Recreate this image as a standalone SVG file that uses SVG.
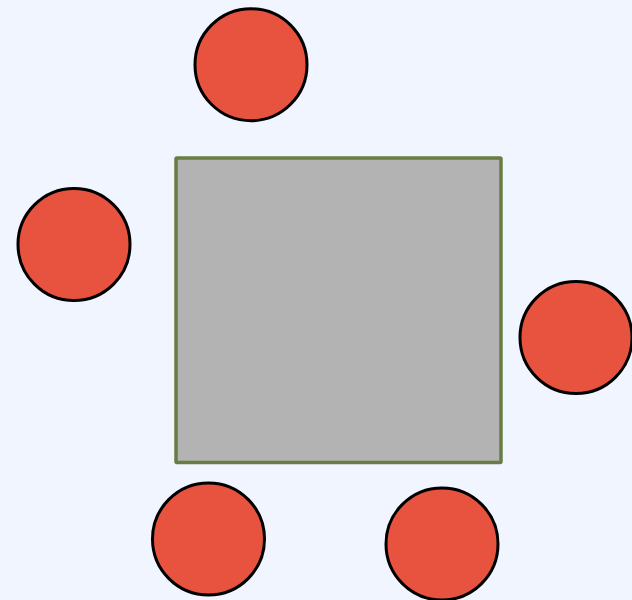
<svg xmlns="http://www.w3.org/2000/svg" width="632" height="600" viewBox="0 0 632 600">
<style>
.seat{fill:#e8533f;stroke:#000;stroke-width:3}
.table{fill:#b3b3b3;stroke:#677d42;stroke-width:3.5}
</style>
<rect width="632" height="600" fill="#f0f5ff"/>
<g id="table"><rect class="table" x="176" y="158" width="325" height="304.5" rx="1"/></g>
<g id="seat1"><circle class="seat" cx="251" cy="64.7" r="56"/></g>
<g id="seat2"><circle class="seat" cx="74" cy="244.5" r="56"/></g>
<g id="seat3"><circle class="seat" cx="576" cy="337.5" r="56"/></g>
<g id="seat4"><circle class="seat" cx="208.5" cy="539" r="56"/></g>
<g id="seat5"><circle class="seat" cx="442" cy="544" r="56"/></g>
<g id="connectors"/>
</svg>
